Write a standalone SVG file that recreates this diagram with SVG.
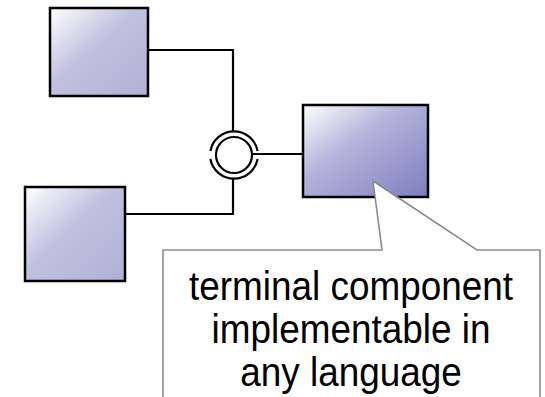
<svg xmlns="http://www.w3.org/2000/svg" width="545" height="397" viewBox="0 0 545 397">
  <style>
    .box { stroke: #000; stroke-width: 2.5; }
    .wire { fill: none; stroke: #000; stroke-width: 2.2; }
    .note { fill: #fff; stroke: #8c8c8c; stroke-width: 1.6; }
    .label { font-family: "Liberation Sans", Arial, sans-serif; font-size: 41px; fill: #000; text-anchor: middle; }
  </style>
  <defs>
    <linearGradient id="fillLight" x1="0" y1="0" x2="1" y2="1">
      <stop offset="0" stop-color="#ffffff"/>
      <stop offset="0.45" stop-color="#c0c0e0"/>
      <stop offset="1" stop-color="#b0b0d6"/>
    </linearGradient>
    <linearGradient id="fillDark" x1="0" y1="0" x2="1" y2="1">
      <stop offset="0" stop-color="#ffffff"/>
      <stop offset="0.4" stop-color="#b4b4dc"/>
      <stop offset="1" stop-color="#7e7ebe"/>
    </linearGradient>
  </defs>

  <!-- connectors -->
  <g id="connectors">
    <polyline class="wire" points="148,50 233,50 233,131"/>
    <polyline class="wire" points="125,214 233,214 233,179"/>
    <line class="wire" x1="252" y1="154" x2="303" y2="154"/>
  </g>

  <!-- provided/required interface joint -->
  <g id="interface">
    <circle class="wire" cx="234" cy="155" r="18"/>
    <path class="wire" d="M 210.4 151 A 24 24 0 0 1 257.6 151"/>
    <path class="wire" d="M 210.4 159 A 24 24 0 0 0 257.6 159"/>
  </g>

  <g id="client-top">
    <rect class="box" x="50" y="8" width="98" height="88" fill="url(#fillLight)"/>
  </g>
  <g id="client-bottom">
    <rect class="box" x="25" y="187" width="100" height="94" fill="url(#fillLight)"/>
  </g>
  <g id="terminal">
    <rect class="box" x="303" y="105" width="125" height="92" fill="url(#fillDark)"/>
  </g>

  <!-- callout -->
  <g id="note">
    <path class="note" d="M 163 250 L 382 250 L 373 181 L 477 250 L 540 250 L 540 402 L 163 402 Z"/>
    <g transform="scale(0.9,1)">
      <text class="label" x="390" y="300">terminal component</text>
      <text class="label" x="390" y="343">implementable in</text>
      <text class="label" x="390" y="386">any language</text>
    </g>
  </g>
</svg>
